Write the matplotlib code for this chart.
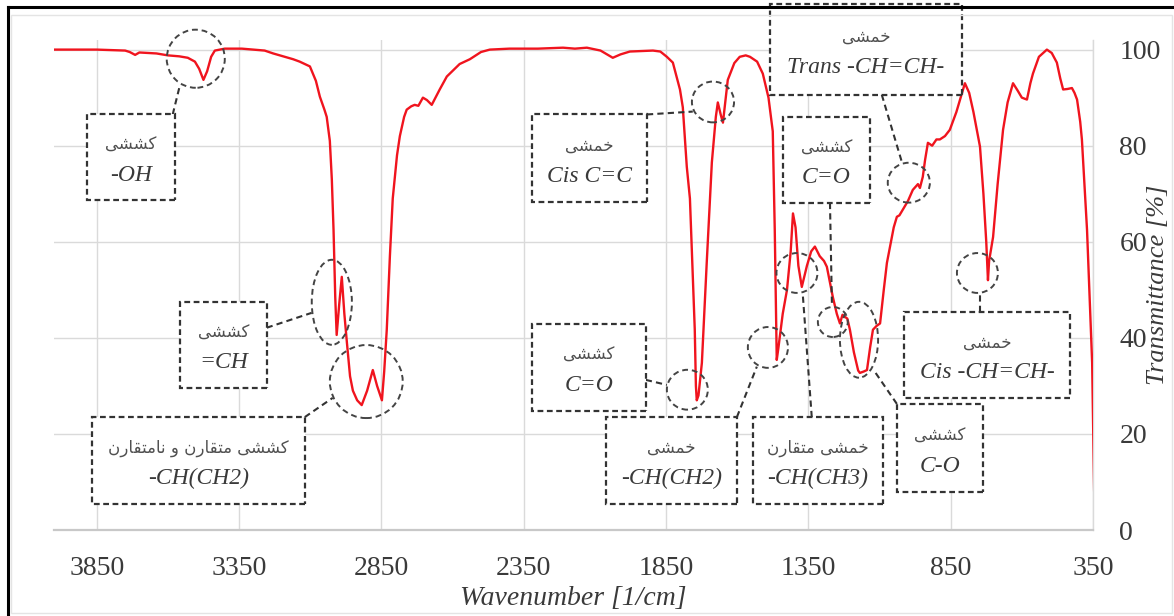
import matplotlib
matplotlib.use("Agg")
import matplotlib.pyplot as plt
from matplotlib.patches import Rectangle, Ellipse
from matplotlib.lines import Line2D

# ---------------- data ----------------
wavenumber = [3997, 3850, 3750, 3734, 3715, 3700, 3640, 3600, 3560, 3530, 3505, 3490, 3475, 3462, 3448,
              3435, 3400, 3340, 3300, 3260, 3230, 3207, 3160, 3137, 3101, 3080, 3066, 3050, 3042, 3031,
              3024, 3018, 3012, 3007, 2998, 2989, 2980, 2971, 2960, 2950, 2935, 2919, 2900, 2880, 2865,
              2848, 2840, 2831, 2820, 2810, 2795, 2785, 2770, 2761, 2745, 2733, 2720, 2704, 2690, 2673,
              2660, 2645, 2620, 2575, 2539, 2500, 2469, 2400, 2300, 2212, 2170, 2128, 2080, 2037, 2010,
              1977, 1940, 1896, 1870, 1847, 1826, 1801, 1791, 1777, 1766, 1749, 1745, 1742, 1736, 1724,
              1707, 1689, 1675, 1668, 1658, 1650, 1642, 1633, 1610, 1591, 1570, 1555, 1530, 1510, 1490,
              1475, 1468, 1461, 1455, 1440, 1425, 1412, 1404, 1395, 1385, 1373, 1355, 1340, 1327, 1310,
              1295, 1285, 1264, 1250, 1239, 1230, 1222, 1213, 1204, 1190, 1175, 1169, 1155, 1144, 1133,
              1123, 1110, 1098, 1085, 1074, 1063, 1050, 1039, 1030, 1018, 1000, 983, 965, 958, 948,
              940, 930, 915, 900, 888, 870, 853, 830, 800, 785, 770, 747, 735, 725, 719,
              715, 701, 685, 666, 650, 631, 615, 600, 582, 570, 561, 540, 512, 495, 477,
              465, 455, 440, 424, 415, 406, 395, 389, 380, 371, 353, 346]
transmittance = [100.0, 100.0, 99.8, 99.5, 98.9, 99.4, 99.2, 98.8, 98.6, 98.3, 97.5, 96.0, 93.7, 95.5, 98.5,
                 99.8, 100.2, 100.2, 100.0, 99.8, 99.2, 98.8, 98.0, 97.5, 96.5, 93.5, 90.2, 87.5, 86.0, 81.0,
                 73.0, 62.5, 48.5, 40.6, 47.0, 52.7, 45.0, 39.0, 32.0, 29.0, 27.0, 26.0, 29.0, 33.3, 30.0,
                 27.0, 33.0, 41.7, 57.0, 69.0, 78.0, 82.0, 86.0, 87.5, 88.2, 88.5, 88.3, 90.0, 89.5, 88.5,
                 90.0, 91.7, 94.4, 97.0, 98.0, 99.5, 100.0, 100.2, 100.2, 100.4, 100.2, 100.4, 99.8, 98.3, 99.0,
                 99.6, 99.7, 99.8, 99.6, 98.5, 97.3, 91.7, 88.0, 75.6, 69.0, 41.7, 30.0, 27.0, 28.0, 34.8,
                 55.6, 76.5, 86.0, 89.0, 86.5, 84.8, 89.0, 93.7, 97.2, 98.5, 98.8, 98.5, 97.5, 95.0, 90.0,
                 83.0, 62.5, 35.4, 38.0, 45.0, 50.0, 58.0, 65.9, 63.0, 55.0, 50.6, 55.0, 58.0, 59.0, 57.0,
                 56.0, 54.8, 48.5, 45.0, 43.0, 44.8, 44.4, 44.0, 41.7, 37.0, 33.2, 32.7, 33.0, 33.3, 38.0,
                 41.7, 42.5, 43.0, 50.0, 55.6, 59.0, 63.0, 65.2, 65.5, 66.7, 68.5, 70.8, 72.0, 71.2, 73.5,
                 77.0, 80.6, 80.0, 81.3, 81.3, 82.0, 83.3, 87.0, 93.0, 91.0, 87.0, 79.8, 70.0, 60.0, 52.0,
                 56.0, 61.0, 72.0, 83.3, 89.0, 93.0, 91.5, 90.0, 89.6, 93.0, 95.0, 98.5, 100.0, 99.3, 97.3,
                 94.0, 91.7, 91.8, 92.0, 91.0, 89.6, 85.0, 81.3, 72.0, 62.5, 34.8, 8.3]

x_ticks = [3850, 3350, 2850, 2350, 1850, 1350, 850, 350]
y_ticks = [0, 20, 40, 60, 80, 100]
x_label = "Wavenumber [1/cm]"
y_label = "Transmittance [%]"

# annotation labels (Persian line, Latin line)
labels_fa = ["کششی", "کششی", "کششی متقارن و نامتقارن", "خمشی", "کششی", "خمشی",
             "خمشی متقارن", "کششی", "کششی", "خمشی", "خمشی"]
labels_en = ["-OH", "=CH", "-CH(CH2)", "Cis C=C", "C=O", "-CH(CH2)",
             "-CH(CH3)", "C=O", "C-O", "Cis -CH=CH-", "Trans -CH=CH-"]

# ---------------- layout (data coordinates) ----------------
# boxes: (x_left, x_right, y_bottom, y_top)
boxes = [(3885, 3576, 68.75, 86.5), (3558, 3253, 29.6, 47.5), (3868, 3119, 5.4, 23.5),
         (2321, 1917, 68.3, 86.5), (2321, 1921, 24.8, 42.9), (2061, 1601, 5.4, 23.5),
         (1545, 1088, 5.4, 23.5), (1439, 1134, 68.1, 86.0), (1039, 737, 7.9, 26.25),
         (1014, 431, 27.5, 45.4), (1485, 810, 90.6, 109.5)]
# circles: (x_center, y_center, width, height)
circles = [(3502, 98.1, 204, 12.1), (3024, 47.4, 141, 17.7), (2903, 30.9, 256, 15.2),
           (1685, 89.1, 148, 8.5), (1775, 29.2, 144, 8.3), (1492, 38.0, 141, 8.5),
           (1390, 53.5, 144, 8.3), (1264, 43.3, 105, 6.25), (1172, 39.6, 134, 15.8),
           (756, 53.5, 144, 8.3), (997, 72.3, 148, 8.3)]
# connectors
connectors = [([3583, 3558], [86.5, 92.5]), ([3253, 3095], [42.1, 45.2]), ([3119, 3021], [23.5, 27.5]),
              ([1917, 1756], [86.5, 87.1]), ([1921, 1847], [31.25, 30.2]), ([1601, 1531], [23.5, 34.0]),
              ([1338, 1370], [23.5, 49.4]), ([1274, 1267], [68.1, 46.5]), ([1039, 1116], [26.25, 32.9]),
              ([747, 747], [45.4, 49.0]), ([1092, 1021], [90.6, 76.5])]

# ---------------- Persian shaping helper ----------------
FORMS = {
    'ا': ('\uFE8D', '\uFE8E', None, None),
    'ت': ('\uFE95', '\uFE96', '\uFE97', '\uFE98'),
    'خ': ('\uFEA5', '\uFEA6', '\uFEA7', '\uFEA8'),
    'ر': ('\uFEAD', '\uFEAE', None, None),
    'ش': ('\uFEB5', '\uFEB6', '\uFEB7', '\uFEB8'),
    'ق': ('\uFED5', '\uFED6', '\uFED7', '\uFED8'),
    'ک': ('\uFED9', '\uFEDA', '\uFEDB', '\uFEDC'),
    'م': ('\uFEE1', '\uFEE2', '\uFEE3', '\uFEE4'),
    'ن': ('\uFEE5', '\uFEE6', '\uFEE7', '\uFEE8'),
    'و': ('\uFEED', '\uFEEE', None, None),
    'ی': ('\uFEEF', '\uFEF0', '\uFEF3', '\uFEF4'),
}


def shape(text):
    out = []
    for i, c in enumerate(text):
        if c not in FORMS:
            out.append(c)
            continue
        iso, fin, ini, med = FORMS[c]
        prev = text[i - 1] if i > 0 else ''
        nxt = text[i + 1] if i + 1 < len(text) else ''
        pj = prev in FORMS and FORMS[prev][2] is not None
        nj = nxt in FORMS and ini is not None
        if pj and nj:
            out.append(med)
        elif pj:
            out.append(fin)
        elif nj:
            out.append(ini)
        else:
            out.append(iso)
    return ''.join(reversed(out))


# ---------------- figure ----------------
W, H = 1174, 616
fig = plt.figure(figsize=(W / 100, H / 100), dpi=100)
fig.patch.set_facecolor("white")

# frame decorations
fig.add_artist(Line2D([8 / W, 1], [1 - 7 / H, 1 - 7 / H], color="black", lw=2.2))
fig.add_artist(Line2D([8 / W, 8 / W], [0, 1 - 7 / H], color="black", lw=2.2))
fig.add_artist(Rectangle((11 / W, 3 / H), 1161 / W, 598 / H, fill=False,
                         edgecolor="#e4e4e4", lw=1.0))

left, right, bottom_px, top_px = 54, 1093, 530, 40
ax = fig.add_axes([left / W, 1 - bottom_px / H, (right - left) / W, (bottom_px - top_px) / H])
ax.set_xlim(4000, 350)
ax.set_ylim(0, 102)

serif = ["Liberation Serif", "DejaVu Serif"]
txt_col = "#3a3a3a"

ax.plot(wavenumber, transmittance, color="#f0141e", lw=1.7, zorder=3, solid_joinstyle="round")

ax.set_xticks(x_ticks)
ax.set_yticks(y_ticks)
ax.grid(True, color="#dadada", lw=1.0, zorder=0)
ax.set_axisbelow(True)
for s in ["top", "left"]:
    ax.spines[s].set_visible(False)
ax.spines["bottom"].set_color("#c8c8c8")
ax.spines["bottom"].set_linewidth(1.6)
ax.spines["right"].set_color("#dadada")
ax.spines["right"].set_linewidth(1.0)
ax.yaxis.tick_right()
ax.yaxis.set_label_position("right")
ax.tick_params(axis="both", length=0, labelsize=20, labelcolor=txt_col)
ax.tick_params(axis="x", pad=19)
ax.tick_params(axis="y", pad=19)
for lab in ax.get_xticklabels() + ax.get_yticklabels():
    lab.set_family(serif)
for lab in ax.get_yticklabels():
    lab.set_horizontalalignment("left")

ax.set_xlabel(x_label, family=serif, style="italic", fontsize=20, color=txt_col, labelpad=3)
ax.set_ylabel(y_label, family=serif, style="italic", fontsize=19, color=txt_col)
ax.yaxis.set_label_coords(1.052, 0.5)

dash_col = "#333333"
for (x0, x1, y0, y1), fa, en in zip(boxes, labels_fa, labels_en):
    rect = Rectangle((min(x0, x1), y0), abs(x1 - x0), y1 - y0, facecolor="white",
                     edgecolor=dash_col, lw=1.6, linestyle=(0, (2.6, 1.6)), zorder=5, clip_on=False)
    ax.add_patch(rect)
    xc, yc = (x0 + x1) / 2, (y0 + y1) / 2
    ax.annotate(shape(fa), (xc, yc), xytext=(0, 9), textcoords="offset points",
                ha="center", va="center", fontsize=12, color="#505050",
                family=["DejaVu Sans"], zorder=6, annotation_clip=False)
    ax.annotate(en, (xc, yc), xytext=(0, -13), textcoords="offset points",
                ha="center", va="center", fontsize=17, style="italic", color=txt_col,
                family=serif, zorder=6, annotation_clip=False)

for (xc, yc, w, h) in circles:
    ax.add_patch(Ellipse((xc, yc), w, h, fill=False, edgecolor="#444444", lw=1.4,
                         linestyle=(0, (3, 2)), zorder=4, clip_on=False))

for xs, ys in connectors:
    ax.plot(xs, ys, color=dash_col, lw=1.5, linestyle=(0, (3, 2)), zorder=4, clip_on=False)

fig.savefig("out.png", dpi=100, facecolor="white")
